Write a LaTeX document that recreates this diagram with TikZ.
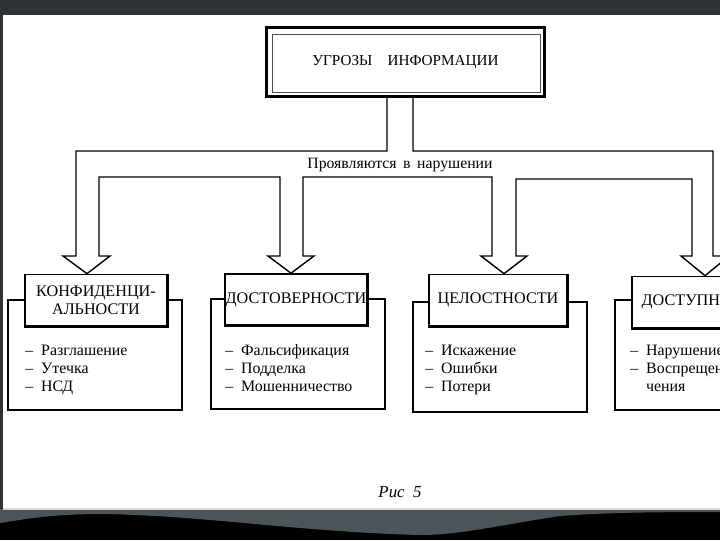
\documentclass[tikz,border=0pt]{standalone}
\usepackage{fontspec}
\setmainfont{Liberation Serif}
\usetikzlibrary{calc}
\definecolor{slidegray}{HTML}{2F3337}
\definecolor{wavegray}{HTML}{4B5458}

\begin{document}
\begin{tikzpicture}[x=0.025cm, y=-0.025cm,
    titlebox/.style={draw, rectangle, fill=white, line width=1pt, inner sep=0pt, minimum width=3.55cm, minimum height=1.28cm, align=center, font=\fontsize{11.5}{12.8}\selectfont},
    framebox/.style={draw, rectangle, line width=0.8pt, inner sep=0pt, minimum width=4.35cm, minimum height=2.75cm},
    listtext/.style={anchor=north west, inner sep=0pt, align=left, font=\fontsize{11.3}{12.8}\selectfont}]
        \useasboundingbox (0,0) rectangle (720,540);
        \clip (0,0) rectangle (720,540);
        \fill[white] (0,0) rectangle (720,540);

        % Draw the main box
        \node[draw, rectangle, line width=2.2pt, minimum width=6.95cm, minimum height=1.725cm, font=\fontsize{10.8}{13}\selectfont] (threat) at (405.5,62) {УГРОЗЫ\quad ИНФОРМАЦИИ};
        \draw[line width=0.4pt, black!70] ($(threat.north west)+(7,8)$) rectangle ($(threat.south east)+(-6,-6)$);

        % Draw the frames under the titles
        \node[framebox] (confframe) at (95,355) {};
        \node[framebox] (reliframe) at (298,354) {};
        \node[framebox] (integframe) at (500,357) {};
        \node[framebox] (availframe) at (702,355) {};

        % Draw the title cells
        \node[titlebox] (conf) at (96,300) {КОНФИДЕНЦИ-\\АЛЬНОСТИ};
        \node[titlebox] (reli) at (296,299.5) {ДОСТОВЕРНОСТИ};
        \node[titlebox, minimum width=3.45cm] (integ) at (498,300) {ЦЕЛОСТНОСТИ};
        \node[titlebox] (avail) at (703,302) {ДОСТУПНОСТИ};
        \draw[line width=2.2pt] (conf.north east) -- (conf.south east) -- (conf.south west);
        \draw[line width=2.2pt] (reli.north east) -- (reli.south east) -- (reli.south west);
        \draw[line width=2.2pt] (integ.north east) -- (integ.south east) -- (integ.south west);
        \draw[line width=2.2pt] (avail.north east) -- (avail.south east) -- (avail.south west);

        % Draw the hollow branching arrow
        \draw[line width=1pt] (387,0 |- threat.south) -- (387,151) -- (76,151) -- (76,256) -- (63,256)
            -- (87,0 |- conf.north) -- (110,256) -- (99,256) -- (99,177) -- (280,177) -- (280,256) -- (268,256)
            -- (291,0 |- reli.north) -- (314,256) -- (303,256) -- (303,177) -- (492,177) -- (492,256) -- (481,256)
            -- (504,0 |- integ.north) -- (527,256) -- (516,256) -- (516,179) -- (692,179) -- (692,256) -- (681,256)
            -- (705,0 |- avail.north) -- (729,256) -- (713,256) -- (713,151) -- (413,151) -- (413,0 |- threat.south);
        \node[inner sep=0pt, font=\fontsize{11.2}{12}\selectfont] (manifest) at (400,165) {Проявляются\ \,в\ \,нарушении};

        % Draw the lists
        \node[listtext] (conflist) at (25,344) {\vphantom{Фф}–\enspace Разглашение\\–\enspace Утечка\\–\enspace НСД};
        \node[listtext] (relilist) at (225,344) {\vphantom{Фф}–\enspace Фальсификация\\–\enspace Подделка\\–\enspace Мошенничество};
        \node[listtext] (integlist) at (425,344) {\vphantom{Фф}–\enspace Искажение\\–\enspace Ошибки\\–\enspace Потери};
        \node[listtext] (availlist) at (630,344) {\vphantom{Фф}–\enspace Нарушение\\–\enspace Воспрещение полу-\\\phantom{–\enspace }чения};

        % Caption
        \node[font=\itshape\fontsize{12}{14}\selectfont] (caption) at (400,492) {Рис\ \ 5};

        % Slide frame
        \fill[slidegray] (0,0) rectangle (720,15);
        \fill[slidegray] (0,0) rectangle (3,509);
        \fill[black] (0,509) rectangle (720,540);
        \fill[wavegray] (0,509) -- (720,509) -- (720,512) .. controls (640,512) and (600,513) .. (560,516)
            .. controls (500,525) and (460,535) .. (420,535) .. controls (300,532) and (200,515) .. (100,514)
            .. controls (50,514) and (20,520) .. (0,523) -- cycle;
        \draw[black!15, line width=0.8pt] (3,509) -- (720,509);
    \end{tikzpicture}
\end{document}
